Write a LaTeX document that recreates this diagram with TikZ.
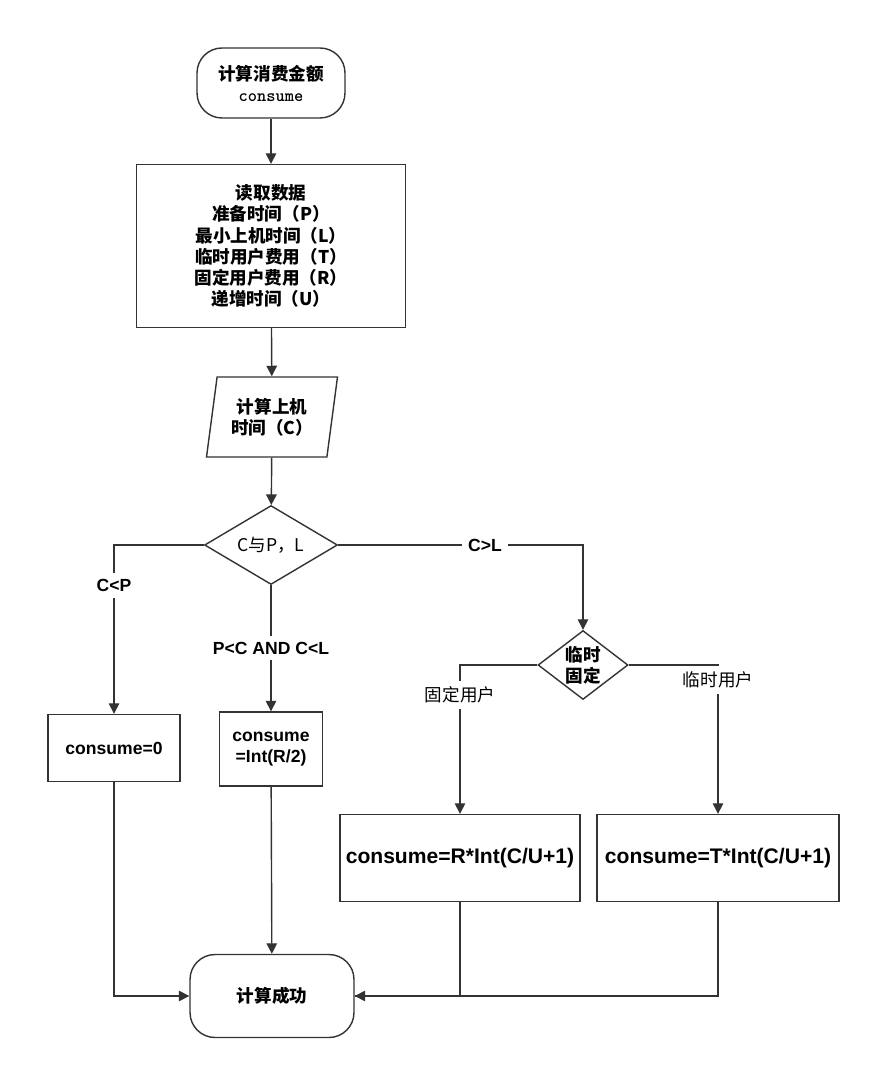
\documentclass[tikz,border=0pt]{standalone}
\usepackage{fontspec}
\setmainfont{Liberation Sans}
\newfontfamily\cjk{Noto Sans CJK SC}
\usetikzlibrary{shapes.geometric,arrows.meta,positioning}

\begin{document}
\begin{tikzpicture}[x=0.02cm,y=-0.02cm,
	box/.style={draw=black!80,thick,align=center,font=\bfseries},
	term/.style={box,rounded corners=0.5cm},
	arr/.style={thick,draw=black!80,-{Triangle[length=6pt,width=6pt]}},
	lab/.style={font=\bfseries,fill=white}]
	\useasboundingbox (0,0) rectangle (871,1070);

		% Start
		\node[term,minimum width=2.96cm,minimum height=1.4cm] (start) at (271,83)
			{{\cjk 计算消费金额}\\{\ttfamily consume}};
		
		% Read data
		\node[box,minimum width=5.38cm,minimum height=3.26cm,font=\cjk\bfseries] (read) at (271,246)
			{读取数据\\准备时间（P）\\最小上机时间（L）\\临时用户费用（T）\\固定用户费用（R）\\递增时间（U）};
		
		% Compute time
		\node[box,trapezium,trapezium left angle=78,trapezium right angle=102,trapezium stretches body,
			minimum width=2.62cm,minimum height=1.6cm,inner xsep=0pt,font=\cjk\bfseries] (calc) at (272,417)
			{计算上机\\时间（C）};
		
		% Decisions
		\node[box,diamond,minimum width=2.66cm,minimum height=1.58cm,aspect=1.7,
			inner sep=0pt,font=\cjk] (cmp) at (271,545) {C与P，L};
		\node[box,diamond,minimum width=1.8cm,minimum height=1.38cm,aspect=1.3,
			inner sep=0pt,font=\cjk\bfseries] (kind) at (583,665) {临时\\固定};
		
		% Results
		\node[box,minimum width=2.64cm,minimum height=1.34cm] (zero) at (114,748) {consume=0};
		\node[box,minimum width=2.06cm,minimum height=1.48cm] (half) at (271,749) {consume\\=Int(R/2)};
		\node[box,minimum width=4.72cm,minimum height=1.74cm,font=\large\bfseries] (fixed) at (460,858) {consume=R*Int(C/U+1)};
		\node[box,minimum width=4.84cm,minimum height=1.74cm,font=\large\bfseries] (temp) at (718,858) {consume=T*Int(C/U+1)};
		
		% End
		\node[term,minimum width=3.28cm,minimum height=1.66cm,font=\cjk\bfseries] (done) at (272,996) {计算成功};

		\draw[arr] (start) -- (read);
		\draw[arr] (read) -- (calc);
		\draw[arr] (calc) -- (cmp);
		\draw[arr] (cmp.west) -| (zero.north) node[lab,pos=0.62] {C<P};
		\draw[arr] (cmp) -- (half) node[lab,midway] {P<C AND C<L};
		\draw[arr] (cmp.east) -| (kind.north) node[lab,pos=0.3] {C>L};
		\draw[arr] (kind.west) -| (fixed.north) node[lab,pos=0.6,font=\cjk] {固定用户};
		\draw[arr] (kind.east) -| (temp.north) node[lab,pos=0.55,font=\cjk] {临时用户};
		\draw[arr] (zero.south) |- (done.west);
		\draw[arr] (half) -- (done);
		\draw[arr] (fixed.south) |- (done.east);
		\draw[thick,draw=black!80] (temp.south) |- (done.east);
\end{tikzpicture}
\end{document}
